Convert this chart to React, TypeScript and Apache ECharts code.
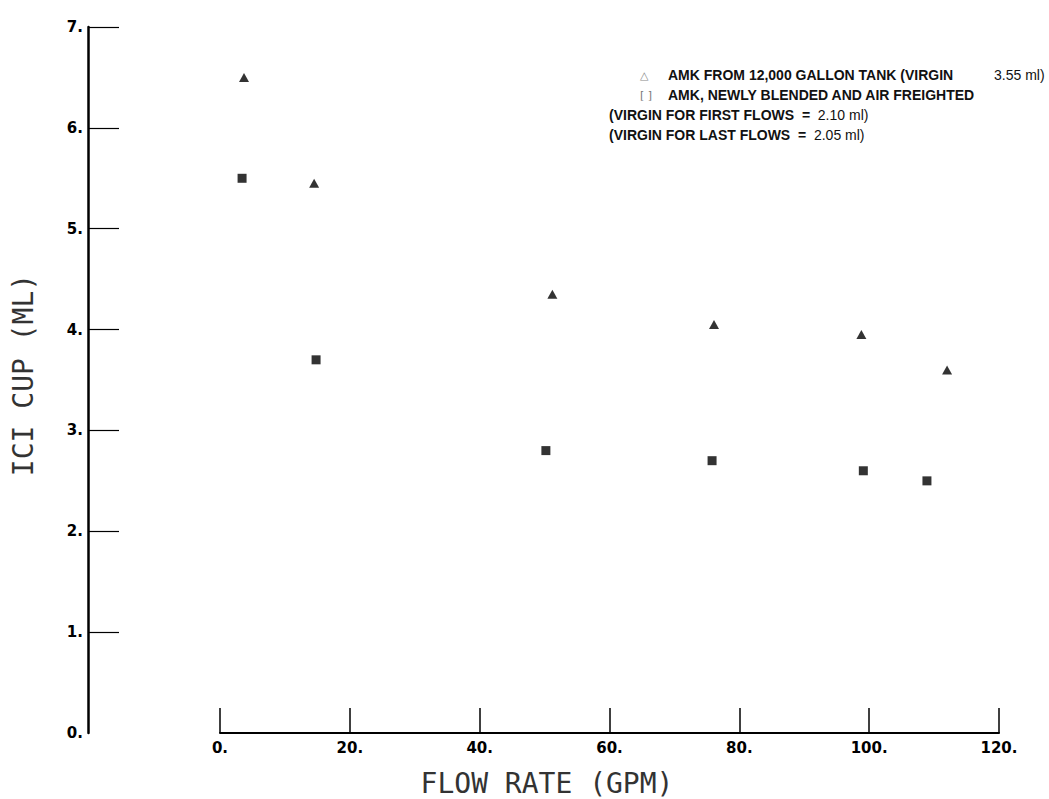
import React, { useEffect, useRef } from "react";
import * as echarts from "echarts";

// Series data (flow rate GPM, ICI cup ML)
const tankFlow = [3.7, 14.5, 51.2, 76.1, 98.8, 112.0];
const tankCup = [6.5, 5.45, 4.35, 4.05, 3.95, 3.6];
const blendFlow = [3.4, 14.8, 50.2, 75.8, 99.1, 108.9];
const blendCup = [5.5, 3.7, 2.8, 2.7, 2.6, 2.5];

// Axis ticks
const xTickValues = [0, 20, 40, 60, 80, 100, 120];
const yTickValues = [0, 1, 2, 3, 4, 5, 6, 7];
const yTickMarks = [1, 2, 3, 4, 5, 6, 7];

// Texts
const xTitle = "FLOW RATE (GPM)";
const yTitle = "ICI CUP (ML)";
const legendSymbols = ["△", "[ ]"];
const legendLine1 = ["AMK FROM 12,000 GALLON TANK (VIRGIN", "3.55 ml)"];
const legendLine2 = "AMK, NEWLY BLENDED AND AIR FREIGHTED";
const legendLine3 = ["(VIRGIN FOR FIRST FLOWS  =  ", "2.10 ml)"];
const legendLine4 = ["(VIRGIN FOR LAST FLOWS  =  ", "2.05 ml)"];

const BOLD_FONT = "'Liberation Sans Narrow', 'Liberation Sans', Arial, sans-serif";
const TICK_FONT = "'DejaVu Sans', sans-serif";
const TITLE_FONT = "'DejaVu Sans Mono', monospace";

export default function App() {
  const ref = useRef<HTMLDivElement>(null);

  useEffect(() => {
    if (!ref.current) return;
    const chart = echarts.init(ref.current, undefined, { renderer: "svg" });

    const richStyles = {
      b: { fontFamily: BOLD_FONT, fontWeight: "bold", fontSize: 14, fill: "#111", color: "#111" },
      r: { fontFamily: BOLD_FONT, fontWeight: "normal", fontSize: 14, fill: "#111", color: "#111" },
    };

    const option: any = {
      animation: false,
      backgroundColor: "#fff",
      grid: { left: 220, right: 50, top: 27, bottom: 66 },
      xAxis: {
        type: "value",
        min: xTickValues[0],
        max: xTickValues[xTickValues.length - 1],
        interval: 20,
        axisLine: { show: true, onZero: false, lineStyle: { color: "#000", width: 2 } },
        axisTick: { show: true, inside: true, length: 25, lineStyle: { color: "#000", width: 1.5 } },
        axisLabel: {
          formatter: (v: number) => `${v}.`,
          fontFamily: TICK_FONT,
          fontWeight: "bold",
          fontSize: 15,
          color: "#000",
          margin: 7,
        },
        splitLine: { show: false },
      },
      yAxis: {
        type: "value",
        min: yTickValues[0],
        max: yTickValues[yTickValues.length - 1],
        interval: 1,
        offset: 132,
        axisLine: { show: true, onZero: false, lineStyle: { color: "#000", width: 2.5 } },
        axisTick: {
          show: true,
          inside: true,
          length: 31,
          customValues: yTickMarks,
          lineStyle: { color: "#000", width: 1.2 },
        },
        axisLabel: {
          formatter: (v: number) => `${v}.`,
          fontFamily: TICK_FONT,
          fontWeight: "bold",
          fontSize: 15,
          color: "#000",
          margin: 5,
        },
        splitLine: { show: false },
      },
      series: [
        {
          type: "scatter",
          name: "tank",
          symbol: "triangle",
          symbolSize: [10, 9],
          itemStyle: { color: "#000" },
          data: tankFlow.map((x, i) => [x, tankCup[i]]),
        },
        {
          type: "scatter",
          name: "blend",
          symbol: "rect",
          symbolSize: 9,
          itemStyle: { color: "#000" },
          data: blendFlow.map((x, i) => [x, blendCup[i]]),
        },
      ],
      graphic: [
        {
          type: "text",
          x: 547,
          y: 783,
          style: {
            text: xTitle,
            font: `normal 28px ${TITLE_FONT}`,
            fill: "#333",
            align: "center",
            verticalAlign: "middle",
          },
        },
        {
          type: "text",
          x: 23,
          y: 375,
          rotation: Math.PI / 2,
          style: {
            text: yTitle,
            font: `normal 28px ${TITLE_FONT}`,
            fill: "#333",
            align: "center",
            verticalAlign: "middle",
          },
        },
        {
          type: "text",
          x: 640,
          y: 75,
          style: { text: legendSymbols[0], font: `normal 11px ${TICK_FONT}`, fill: "#888", verticalAlign: "middle" },
        },
        {
          type: "text",
          x: 640,
          y: 95,
          style: { text: legendSymbols[1], font: `normal 11px ${TICK_FONT}`, fill: "#777", verticalAlign: "middle" },
        },
        {
          type: "text",
          x: 668,
          y: 75,
          style: { text: legendLine1[0], font: `bold 14px ${BOLD_FONT}`, fill: "#111", verticalAlign: "middle" },
        },
        {
          type: "text",
          x: 994,
          y: 75,
          style: { text: legendLine1[1], font: `normal 14px ${BOLD_FONT}`, fill: "#111", verticalAlign: "middle" },
        },
        {
          type: "text",
          x: 668,
          y: 95,
          style: { text: legendLine2, font: `bold 14px ${BOLD_FONT}`, fill: "#111", verticalAlign: "middle" },
        },
        {
          type: "text",
          x: 609,
          y: 115,
          style: {
            text: `{b|${legendLine3[0]}}{r|${legendLine3[1]}}`,
            rich: richStyles,
            verticalAlign: "middle",
          },
        },
        {
          type: "text",
          x: 609,
          y: 135,
          style: {
            text: `{b|${legendLine4[0]}}{r|${legendLine4[1]}}`,
            rich: richStyles,
            verticalAlign: "middle",
          },
        },
      ],
    };

    chart.setOption(option);
    return () => chart.dispose();
  }, []);

  return (
    <div
      ref={ref}
      style={{ position: "fixed", left: 0, top: 0, width: 1049, height: 799, background: "#fff" }}
    />
  );
}
